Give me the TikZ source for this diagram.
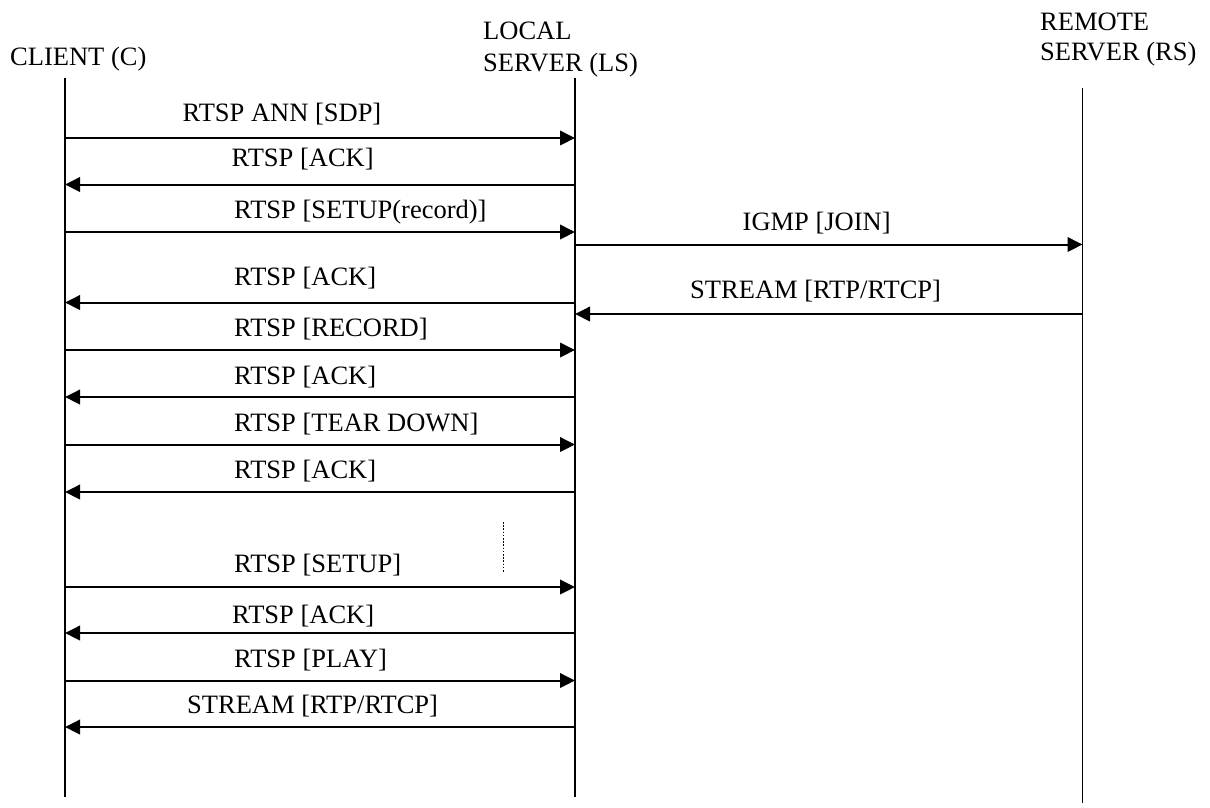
\documentclass[tikz,border=0pt]{standalone}
\usepackage{fontspec}
\setmainfont{Liberation Serif}
\usetikzlibrary{arrows.meta}

\tikzset{
  lbl/.style={inner sep=0pt, anchor=base west, font=\fontsize{26.5}{32}\selectfont},
  lifeline/.style={line width=1.6pt},
  msg/.style={line width=2pt, -{Triangle[length=15pt,width=14.5pt]}},
  gap/.style={line width=0.9pt, dash pattern=on 1.6pt off 1.6pt}
}

\begin{document}
\begin{tikzpicture}[x=1pt, y=-1pt]
\useasboundingbox (0,0) rectangle (1210,807);

% participants
\node[lbl]  (hc) at (10,65)   {CLIENT (C)};
\node[lbl]  (hl1) at (483,39.5) {LOCAL};
\node[lbl]  (hl2) at (483,71)   {SERVER (LS)};
\node[lbl]  (hr1) at (1040,30)  {REMOTE};
\node[lbl]  (hr2) at (1040,60)  {SERVER (RS)};

% lifelines
\coordinate (ctop) at (65,78);    \coordinate (cbot) at (65,797);
\coordinate (ltop) at (575,78);   \coordinate (lbot) at (575,797);
\coordinate (rtop) at (1082.5,88); \coordinate (rbot) at (1082.5,803);
\draw[lifeline] (ctop) -- (cbot);
\draw[lifeline] (ltop) -- (lbot);
\draw[lifeline] (rtop) -- (rbot);

% message end points on the lifelines
\foreach \n/\y in {1/138,2/184.5,3/232,4/244.5,5/302.5,6/314,7/350,8/397,
                   9/444.5,10/492,11/587,12/633,13/680.5,14/727}{
  \coordinate (c\n) at (65,\y);
  \coordinate (l\n) at (575,\y);
  \coordinate (r\n) at (1082.5,\y);
}

% messages
\draw[msg] (c1)  -- (l1);
\draw[msg] (l2)  -- (c2);
\draw[msg] (c3)  -- (l3);
\draw[msg] (l4)  -- (r4);
\draw[msg] (l5)  -- (c5);
\draw[msg] (r6)  -- (l6);
\draw[msg] (c7)  -- (l7);
\draw[msg] (l8)  -- (c8);
\draw[msg] (c9)  -- (l9);
\draw[msg] (l10) -- (c10);
\draw[msg] (c11) -- (l11);
\draw[msg] (l12) -- (c12);
\draw[msg] (c13) -- (l13);
\draw[msg] (l14) -- (c14);

% message labels
\node[lbl] (t1)  at (182.5,121) {RTSP ANN [SDP]};
\node[lbl] (t2)  at (231.5,166) {RTSP [ACK]};
\node[lbl] (t3)  at (234,218)   {RTSP [SETUP(record)]};
\node[lbl] (t4)  at (742.5,230) {IGMP [JOIN]};
\node[lbl] (t5)  at (234,285)   {RTSP [ACK]};
\node[lbl] (t6)  at (690,298.5) {STREAM [RTP/RTCP]};
\node[lbl] (t7)  at (234,336.5) {RTSP [RECORD]};
\node[lbl] (t8)  at (234,384)   {RTSP [ACK]};
\node[lbl] (t9)  at (234,431)   {RTSP [TEAR DOWN]};
\node[lbl] (t10) at (234,478)   {RTSP [ACK]};
\node[lbl] (t11) at (234,572)   {RTSP [SETUP]};
\node[lbl] (t12) at (232,623)   {RTSP [ACK]};
\node[lbl] (t13) at (234,667)   {RTSP [PLAY]};
\node[lbl] (t14) at (187,713)   {STREAM [RTP/RTCP]};

% elapsed-time marker
\coordinate (g1) at (503,522);
\coordinate (g2) at (503,572);
\draw[gap] (g1) -- (g2);
\end{tikzpicture}
\end{document}
